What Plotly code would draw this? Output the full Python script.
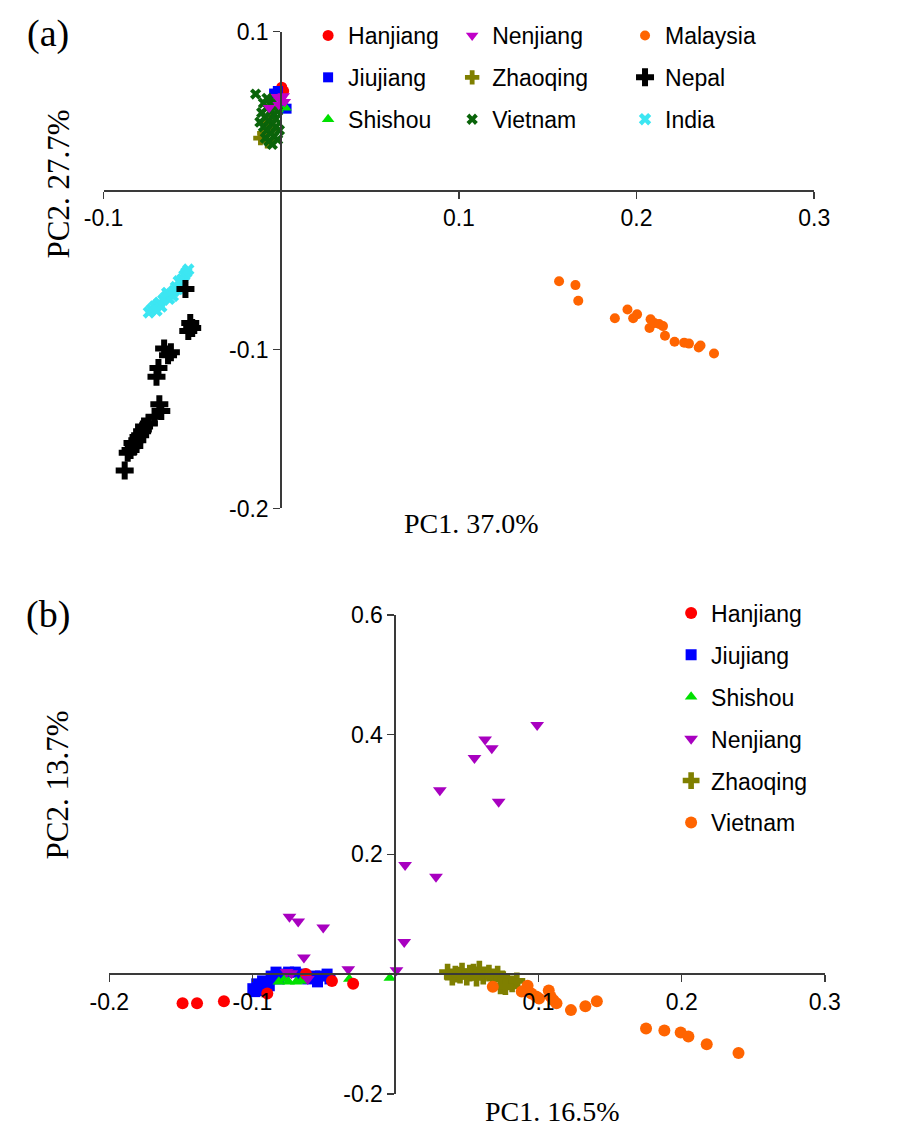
import plotly.graph_objects as go

# ---------------- Panel (a) data: PC1 (37.0%) vs PC2 (27.7%) ----------------
a_hanjiang_x = [0.0003, 0.0014, -0.0008]
a_hanjiang_y = [0.065, 0.0626, 0.0607]
a_jiujiang_x = [-0.004, -0.0019, 0.003, 0.0008]
a_jiujiang_y = [0.061, 0.0626, 0.0515, 0.054]
a_shishou_x = [0.0024, -0.002]
a_shishou_y = [0.052, 0.051]
a_nenjiang_x = [-0.0024, -0.0003, 0.0014, -0.0014, -0.0068, 0.002]
a_nenjiang_y = [0.059, 0.057, 0.0595, 0.054, 0.052, 0.0558]
a_zhaoqing_x = [-0.0117, -0.0079, -0.0095, -0.0051, -0.0068]
a_zhaoqing_y = [0.033, 0.031, 0.036, 0.0387, 0.0436]
a_vietnam_x = [-0.0144, -0.010, -0.008, -0.006, -0.004, -0.009, -0.007, -0.005, -0.003, -0.010, -0.008,
               -0.006, -0.004, -0.002, -0.009, -0.007, -0.005, -0.003, -0.001, -0.011, -0.012, -0.002,
               -0.006, -0.004, -0.008]
a_vietnam_y = [0.0607, 0.055, 0.052, 0.050, 0.048, 0.046, 0.044, 0.042, 0.040, 0.040, 0.038,
               0.036, 0.034, 0.032, 0.033, 0.031, 0.029, 0.045, 0.038, 0.049, 0.043, 0.050,
               0.054, 0.056, 0.058]
a_malaysia_x = [0.1564, 0.1656, 0.1672, 0.1878, 0.1949, 0.1981, 0.2003, 0.2079, 0.2073, 0.2100,
                0.2127, 0.2149, 0.2160, 0.2214, 0.2268, 0.2295, 0.2350, 0.2360, 0.2436]
a_malaysia_y = [-0.0571, -0.0595, -0.0693, -0.0804, -0.0748, -0.0804, -0.0779, -0.0810, -0.0865, -0.0834,
                -0.0840, -0.0853, -0.0914, -0.0951, -0.0957, -0.0963, -0.0988, -0.0975, -0.1025]
a_nepal_x = [-0.0539, -0.0512, -0.0523, -0.0501, -0.0659, -0.0621, -0.0637, -0.0691, -0.0702, -0.0686, -0.0675,
             -0.0713, -0.0745, -0.0772, -0.0794, -0.0810, -0.0827, -0.0848, -0.0864, -0.0881, -0.0783, -0.0837]
a_nepal_y = [-0.0620, -0.0834, -0.0883, -0.0865, -0.0994, -0.1018, -0.1037, -0.1117, -0.1172, -0.1344, -0.1387,
             -0.1423, -0.1466, -0.1485, -0.1540, -0.1571, -0.1607, -0.1632, -0.1650, -0.1761, -0.1515, -0.1589]
a_india_x = [-0.0745, -0.0729, -0.0713, -0.0696, -0.0686, -0.0675, -0.0664, -0.0648, -0.0631, -0.0621, -0.0604,
             -0.0593, -0.0583, -0.0566, -0.0556, -0.0545, -0.0534, -0.0523, -0.0702, -0.0642, -0.0577, -0.0610]
a_india_y = [-0.0767, -0.0748, -0.0730, -0.0718, -0.0706, -0.0730, -0.0687, -0.0669, -0.0681, -0.0650, -0.0632,
             -0.0607, -0.0620, -0.0583, -0.0558, -0.0534, -0.0515, -0.0497, -0.0755, -0.0644, -0.0571, -0.0663]

# ---------------- Panel (b) data: PC1 (16.5%) vs PC2 (13.7%) ----------------
b_hanjiang_x = [-0.1488, -0.1387, -0.1199, -0.0896, -0.0626, -0.0444, -0.0296]
b_hanjiang_y = [-0.0488, -0.0488, -0.0455, -0.0325, 0.0, -0.0114, -0.0163]
b_jiujiang_x = [-0.0997, -0.0970, -0.0929, -0.0869, -0.0835, -0.0795, -0.0747, -0.0700, -0.0660, -0.0613, -0.0545,
                -0.0525, -0.0478, -0.0458, -0.0983, -0.0949, -0.0882, -0.0815, -0.0566, -0.0916, -0.0963]
b_jiujiang_y = [-0.0244, -0.0163, -0.0114, -0.0033, 0.0033, 0.0, 0.0033, 0.0033, 0.0, -0.0081, -0.0130,
                -0.0033, 0.0, -0.0081, -0.0293, -0.0276, -0.0195, -0.0081, -0.0033, -0.0211, -0.0211]
b_shishou_x = [-0.0815, -0.0747, -0.0694, -0.0660, -0.0774, -0.0323, -0.0040]
b_shishou_y = [-0.0130, -0.0130, -0.0130, -0.0114, -0.0081, -0.0081, -0.0065]
b_nenjiang_x = [0.0990, 0.0626, 0.0673, 0.0552, 0.0310, 0.0721, 0.0067, 0.0283, 0.0061,
                -0.0741, -0.0680, -0.0505, -0.0640, -0.0761, -0.0727, -0.0613, -0.0330, 0.0007]
b_nenjiang_y = [0.4163, 0.3919, 0.3772, 0.3610, 0.3073, 0.2878, 0.1821, 0.1626, 0.0537,
                0.0959, 0.0878, 0.0780, 0.0276, 0.0033, 0.0016, -0.0081, 0.0081, 0.0065]
b_zhaoqing_x = [0.0364, 0.0418, 0.0465, 0.0498, 0.0545, 0.0586, 0.0613, 0.0653, 0.0680, 0.0714,
                0.0747, 0.0781, 0.0815, 0.0848, 0.0734, 0.0768, 0.0397, 0.0451, 0.0519, 0.0566]
b_zhaoqing_y = [0.0033, 0.0, 0.0049, -0.0049, 0.0033, 0.0081, -0.0033, 0.0016, -0.0049, 0.0,
                -0.0081, -0.0130, -0.0163, -0.0114, -0.0195, -0.0211, -0.0049, -0.0016, 0.0016, -0.0065]
b_vietnam_x = [0.0680, 0.0923, 0.0882, 0.0949, 0.0983, 0.1003, 0.1071, 0.1084, 0.1104, 0.1125,
               0.1226, 0.1327, 0.1407, 0.1751, 0.1879, 0.1993, 0.2047, 0.2175, 0.2397]
b_vietnam_y = [-0.0211, -0.0195, -0.0293, -0.0325, -0.0374, -0.0407, -0.0276, -0.0374, -0.0439, -0.0488,
               -0.0602, -0.0537, -0.0455, -0.0911, -0.0943, -0.0976, -0.1041, -0.1171, -0.1317]

# tick labels
a_xticks = [-0.1, 0.1, 0.2, 0.3]
a_xtext = ["-0.1", "0.1", "0.2", "0.3"]
a_yticks = [0.1, -0.1, -0.2]
a_ytext = ["0.1", "-0.1", "-0.2"]
b_xticks = [-0.2, -0.1, 0.1, 0.2, 0.3]
b_xtext = ["-0.2", "-0.1", "0.1", "0.2", "0.3"]
b_yticks = [0.6, 0.4, 0.2, -0.2]
b_ytext = ["0.6", "0.4", "0.2", "-0.2"]

W, H = 908, 1141
SANS = "Liberation Sans, Arial, sans-serif"
SERIF = "Liberation Serif, Times New Roman, serif"

def px(x):
    return x / W

def py(y):
    return 1 - y / H

fig = go.Figure()

def add(x, y, name, symbol, color, size, xa, ya, legend, rank):
    fig.add_trace(go.Scatter(
        x=x, y=y, mode="markers", name=name, xaxis=xa, yaxis=ya,
        legend=legend, legendgroup=legend + name, legendrank=rank,
        marker=dict(symbol=symbol, color=color, size=size, line=dict(width=0)),
        cliponaxis=False,
    ))

RED, BLUE, GREEN = "#FF0000", "#0000FF", "#00E000"
MAG, OLIVE, DKGREEN = "#C000C8", "#7F7F00", "#0A640A"
ORANGE, BLACK, CYAN = "#FF6400", "#000000", "#3CE6F2"

# panel (a)
add(a_hanjiang_x, a_hanjiang_y, "Hanjiang", "circle", RED, 11, "x", "y", "legend", 1)
add(a_jiujiang_x, a_jiujiang_y, "Jiujiang", "square", BLUE, 10, "x", "y", "legend", 2)
add(a_shishou_x, a_shishou_y, "Shishou", "triangle-up", GREEN, 11, "x", "y", "legend", 3)
add(a_zhaoqing_x, a_zhaoqing_y, "Zhaoqing", "cross", OLIVE, 12, "x", "y", "legend2", 2)
add(a_vietnam_x, a_vietnam_y, "Vietnam", "x", DKGREEN, 10, "x", "y", "legend2", 3)
add(a_nenjiang_x, a_nenjiang_y, "Nenjiang", "triangle-down", MAG, 11, "x", "y", "legend2", 1)
add(a_malaysia_x, a_malaysia_y, "Malaysia", "circle", ORANGE, 10, "x", "y", "legend3", 1)
add(a_india_x, a_india_y, "India", "x", CYAN, 11, "x", "y", "legend3", 3)
add(a_nepal_x, a_nepal_y, "Nepal", "cross", BLACK, 15, "x", "y", "legend3", 2)

# panel (b)
add(b_jiujiang_x, b_jiujiang_y, "Jiujiang", "square", BLUE, 11, "x2", "y2", "legend4", 2)
add(b_shishou_x, b_shishou_y, "Shishou", "triangle-up", GREEN, 11, "x2", "y2", "legend4", 3)
add(b_hanjiang_x, b_hanjiang_y, "Hanjiang", "circle", RED, 12, "x2", "y2", "legend4", 1)
add(b_nenjiang_x, b_nenjiang_y, "Nenjiang", "triangle-down", "#A800C0", 12, "x2", "y2", "legend4", 4)
add(b_zhaoqing_x, b_zhaoqing_y, "Zhaoqing", "cross", OLIVE, 14, "x2", "y2", "legend4", 5)
add(b_vietnam_x, b_vietnam_y, "Vietnam", "circle", ORANGE, 12, "x2", "y2", "legend4", 6)

axcol = "#3a3a3a"
common = dict(showgrid=False, zeroline=False, showline=True, linecolor=axcol, linewidth=2,
              ticks="outside", ticklen=7, tickwidth=1.5, tickcolor=axcol,
              tickfont=dict(family=SANS, size=23, color="black"), tickmode="array",
              fixedrange=True)

# panel (a) geometry
ax_dom = [px(87), px(827)]
ay_dom = [py(507), py(19)]
ax_range = [-0.1, 0.3]
ay_range = [-0.2, 0.1]
ax_zero = ax_dom[0] + (0 - ax_range[0]) / (ax_range[1] - ax_range[0]) * (ax_dom[1] - ax_dom[0])
ay_zero = ay_dom[0] + (0 - ay_range[0]) / (ay_range[1] - ay_range[0]) * (ay_dom[1] - ay_dom[0])

# panel (b) geometry
bx_dom = [px(93), px(838)]
by_dom = [py(1106), py(616)]
bx_range = [-0.2, 0.3]
by_range = [-0.2, 0.6]
bx_zero = bx_dom[0] + (0 - bx_range[0]) / (bx_range[1] - bx_range[0]) * (bx_dom[1] - bx_dom[0])
by_zero = by_dom[0] + (0 - by_range[0]) / (by_range[1] - by_range[0]) * (by_dom[1] - by_dom[0])

fig.update_layout(
    width=W, height=H, autosize=False,
    margin=dict(l=0, r=0, t=0, b=0),
    paper_bgcolor="white", plot_bgcolor="white",
    xaxis=dict(domain=ax_dom, range=ax_range, anchor="free", position=ay_zero,
               tickvals=a_xticks, ticktext=a_xtext, **common),
    yaxis=dict(domain=ay_dom, range=ay_range, anchor="free", position=ax_zero,
               tickvals=a_yticks, ticktext=a_ytext, **common),
    xaxis2=dict(domain=bx_dom, range=bx_range, anchor="free", position=by_zero,
                tickvals=b_xticks, ticktext=b_xtext, **common),
    yaxis2=dict(domain=by_dom, range=by_range, anchor="free", position=bx_zero,
                tickvals=b_yticks, ticktext=b_ytext, **common),
)

leg_common = dict(xanchor="left", yanchor="top", bgcolor="rgba(0,0,0,0)",
                  font=dict(family=SANS, size=23, color="black"),
                  traceorder="grouped", tracegroupgap=9, orientation="v")
fig.update_layout(
    legend=dict(x=px(300), y=py(1), **leg_common),
    legend2=dict(x=px(450), y=py(1), **leg_common),
    legend3=dict(x=px(630), y=py(1), **leg_common),
    legend4=dict(x=px(678), y=py(592), **leg_common),
)

def label(text, x, y, size, angle=0):
    fig.add_annotation(text=text, x=px(x), y=py(y), xref="paper", yref="paper",
                       showarrow=False, textangle=angle, xanchor="center", yanchor="middle",
                       font=dict(family=SERIF, size=size, color="black"))

label("(a)", 29, 21, 38)
label("(b)", 29, 616, 38)
label("PC1. 37.0%", 470, 522, 28)
label("PC2. 27.7%", 40, 175, 31, -90)
label("PC1. 16.5%", 555, 1124, 28)
label("PC2. 13.7%", 40, 790, 31, -90)

fig.write_html("out.html", config={"displayModeBar": False, "staticPlot": True},
               post_script="document.body.style.margin='0';document.body.style.overflow='hidden';")
